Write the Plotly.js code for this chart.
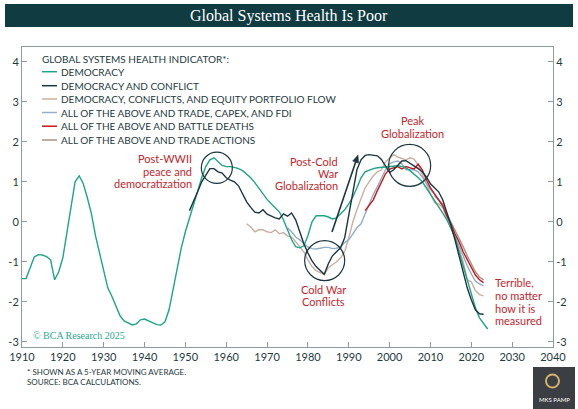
<!DOCTYPE html>
<html><head><meta charset="utf-8">
<script src="https://cdn.plot.ly/plotly-3.0.1.min.js"></script>
<style>html,body{margin:0;padding:0;background:#fff;} #chart{width:578px;height:409px;}</style>
</head><body><div id="chart"></div>
<script>
// ---- DATA ----
const seriesNames = [
  "DEMOCRACY",
  "DEMOCRACY AND CONFLICT",
  "DEMOCRACY, CONFLICTS, AND EQUITY PORTFOLIO FLOW",
  "ALL OF THE ABOVE AND TRADE, CAPEX, AND FDI",
  "ALL OF THE ABOVE AND BATTLE DEATHS",
  "ALL OF THE ABOVE AND TRADE ACTIONS"
];
const seriesColors = ["#1ea585", "#1b3640", "#c9b0a2", "#93aec6", "#c8161d", "#a89486"];

const democracyStart = 1910;
const democracy = [
 -1.42,-1.42,-1.15,-0.88,-0.82,-0.83,-0.87,-0.95,-1.45,-1.25,
 -0.9,-0.25,0.45,1.0,1.15,0.95,0.6,0.2,-0.35,-0.78,
 -1.2,-1.65,-1.86,-2.1,-2.35,-2.48,-2.52,-2.58,-2.55,-2.45,
 -2.43,-2.48,-2.53,-2.57,-2.58,-2.5,-2.2,-1.65,-1.1,-0.65,
 -0.25,0.1,0.43,0.78,1.1,1.38,1.55,1.6,1.5,1.41,
 1.38,1.38,1.36,1.33,1.28,1.2,1.1,0.98,0.83,0.68,
 0.56,0.45,0.35,0.25,0.05,-0.2,-0.45,-0.62,-0.65,-0.6,
 -0.35,0.0,0.15,0.15,0.15,0.12,0.07,0.1,0.2,0.3,
 0.45,0.62,0.85,1.1,1.25,1.3,1.33,1.35,1.36,1.38,
 1.38,1.4,1.4,1.38,1.35,1.28,1.2,1.1,1.0,0.85,
 0.68,0.52,0.38,0.22,0.05,-0.15,-0.38,-0.75,-1.1,-1.45,
 -1.85,-2.15,-2.4,-2.55,-2.68
];

const conflictStart = 1951;
const democracyConflict = [
 0.28,0.5,0.75,1.0,1.18,1.33,1.33,1.25,1.22,
 1.1,1.04,1.0,0.9,0.7,0.5,0.36,0.24,0.22,0.3,
 0.19,0.14,0.1,0.07,0.2,0.14,0.22,0.05,-0.28,-0.55,
 -0.78,-0.98,-1.12,-1.22,-1.31,-1.05,-0.85,-0.75,-0.65,-0.4,
 0.2,0.8,1.3,1.55,1.66,1.68,1.66,1.65,1.56,1.38,
 1.23,1.3,1.42,1.52,1.53,1.47,1.4,1.33,1.25,1.12,
 0.95,0.85,0.75,0.55,0.25,-0.08,-0.45,-0.85,-1.25,-1.65,
 -1.95,-2.2,-2.3,-2.31
];

const equityStart = 1965;
const equityFlow = [
 -0.05,-0.13,-0.25,-0.2,-0.2,
 -0.25,-0.27,-0.2,-0.3,-0.27,-0.35,-0.38,-0.5,-0.62,-0.75,
 -0.95,-1.12,-1.22,-1.27,-1.32,-1.15,-1.08,-1.0,-0.9,-0.75,
 -0.4,0.0,0.3,0.6,0.85,1.0,1.15,1.25,1.3,1.5,
 1.6,1.68,1.62,1.58,1.55,1.6,1.57,1.42,1.2,0.95,
 0.7,0.48,0.45,0.35,0.1,-0.15,-0.4,-0.7,-1.0,-1.45,
 -1.5,-1.72,-1.82,-1.85
];

const tradeCapexStart = 1975;
const tradeCapexFdi = [
 -0.15,-0.25,-0.38,-0.45,-0.55,
 -0.63,-0.67,-0.68,-0.66,-0.64,-0.64,-0.67,-0.66,-0.62,-0.52,
 -0.45,-0.3,-0.15,-0.05,0.2,0.45,0.68,0.88,1.08,1.3,
 1.45,1.5,1.52,1.45,1.3,1.3,1.3,1.25,1.12,0.95,
 0.8,0.68,0.55,0.4,0.15,-0.1,-0.35,-0.6,-0.85,-1.1,
 -1.3,-1.48,-1.55,-1.6
];

const battleStart = 1994;
const battleDeaths = [
 0.28,0.42,0.55,0.78,1.0,1.2,
 1.32,1.36,1.38,1.32,1.38,1.35,1.32,1.44,1.3,1.05,
 0.85,0.7,0.56,0.4,0.15,-0.05,-0.3,-0.5,-0.75,-0.95,
 -1.15,-1.33,-1.45,-1.52
];

const tradeActionsStart = 2011;
const tradeActions = [0.65,0.55,0.45,0.2,0.0,-0.2,-0.4,-0.62,-0.85,-1.05,-1.25,-1.38,-1.45];

const xTickVals = [1910,1920,1930,1940,1950,1960,1970,1980,1990,2000,2010,2020,2030,2040];
const yTickVals = [-3,-2,-1,0,1,2,3,4];
const yTickText = ["-3","-2","-1","0","1","2","3","4"];

// ---- BUILD ----
function yrs(start, arr){ return arr.map((_, i) => start + i); }
const seriesData = [
  [democracyStart, democracy],
  [conflictStart, democracyConflict],
  [equityStart, equityFlow],
  [tradeCapexStart, tradeCapexFdi],
  [battleStart, battleDeaths],
  [tradeActionsStart, tradeActions]
];
const drawOrder = [2,5,3,4,0,1];
const traces = drawOrder.map(i => ({
  type: "scatter", mode: "lines", name: seriesNames[i],
  x: yrs(seriesData[i][0], seriesData[i][1]), y: seriesData[i][1],
  line: {color: seriesColors[i], width: 1.4}, hoverinfo: "skip", showlegend: false
}));
traces.push({type:"scatter", mode:"lines", x:[1910], y:[0], yaxis:"y2", showlegend:false, hoverinfo:"skip", line:{color:"rgba(0,0,0,0)"}});

const L = 22, R = 553, T = 47, B = 347;
function px(x){ return (x - L) / (R - L); }
function py(y){ return (B - y) / (B - T); }

const ink = "#1e3a40";
const red = "#c1272d";
const frame = "#8d9c9e";
const navy = "#1b3640";
const font = "Lato, 'Open Sans', sans-serif";

const annotations = [];
const shapes = [];
function txt(text, x, y, o){
  annotations.push(Object.assign({text: text, x: px(x), y: py(y), xref: "paper", yref: "paper",
    showarrow: false, xanchor: "left", yanchor: "middle",
    font: {family: font, size: 11, color: red}}, o || {}));
}

// title bar
shapes.push({type:"rect", xref:"paper", yref:"paper", x0:px(5), x1:px(573), y0:py(27), y1:py(4), fillcolor:"#0f3b41", line:{width:0}, layer:"below"});
txt("Global Systems Health Is Poor", 289, 16, {xanchor:"center", font:{family:"'Liberation Serif', 'DejaVu Serif', serif", size:16, color:"#ffffff"}});

// legend (manual)
txt("GLOBAL SYSTEMS HEALTH INDICATOR*:", 40, 58.5, {font:{family:font, size:10, color:ink}});
const rowY = [71.7, 85.7, 99, 112.5, 126.2, 140];
seriesNames.forEach((n, i) => {
  shapes.push({type:"line", xref:"paper", yref:"paper", x0:px(42), x1:px(57), y0:py(rowY[i]), y1:py(rowY[i]), line:{color:seriesColors[i], width:1.5}});
  txt(n, 59, rowY[i], {font:{family:font, size:10, color:ink}});
});

// red commentary
txt("Post-WWII", 194, 158.3, {xanchor:"right"});
txt("peace and", 194, 171, {xanchor:"right"});
txt("democratization", 194, 183.5, {xanchor:"right"});
txt("Post-Cold", 340, 161, {xanchor:"right"});
txt("War", 340, 173, {xanchor:"right"});
txt("Globalization", 340, 185.5, {xanchor:"right"});
txt("Peak", 412.5, 120.7, {xanchor:"center"});
txt("Globalization", 412.5, 133.3, {xanchor:"center"});
txt("Cold War", 323.5, 289.3, {xanchor:"center"});
txt("Conflicts", 323.5, 301.7, {xanchor:"center"});
txt("Terrible,", 492.5, 282.7);
txt("no matter", 492.5, 295.3);
txt("how it is", 492.5, 308);
txt("measured", 492.5, 320.7);

// copyright
txt("© BCA Research 2025", 31, 335, {font:{family:"'Liberation Serif', serif", size:10, color:"#2aa98b"}});

// footnotes
txt("* SHOWN AS A 5-YEAR MOVING AVERAGE.", 25, 372, {font:{family:font, size:8, color:ink}});
txt("SOURCE: BCA CALCULATIONS.", 25, 382, {font:{family:font, size:8, color:ink}});

// logo
shapes.push({type:"rect", xref:"paper", yref:"paper", x0:px(533), x1:px(575), y0:py(409), y1:py(367), fillcolor:"#3b3e43", line:{width:0}});
shapes.push({type:"circle", xref:"paper", yref:"paper", x0:px(546), x1:px(559), y0:py(387.5), y1:py(374.5), line:{color:"#d4b06a", width:2}});
txt("MKS PAMP", 554, 399, {xanchor:"center", font:{family:font, size:6, color:"#ffffff"}});

// circles (data coords)
function circ(cx, cy, rx, ry){
  shapes.push({type:"circle", xref:"x", yref:"y", x0:cx-rx, x1:cx+rx, y0:cy-ry, y1:cy+ry, line:{color:navy, width:1.2}});
}
circ(1957.7, 1.35, 3.8, 0.39);
circ(1984.1, -0.97, 4.9, 0.5);
circ(2004.9, 1.41, 5.15, 0.525);

// arrow (line + head)
const aFrom = [332, 232], aTo = [358, 155];
(function(){
  const dx = aTo[0]-aFrom[0], dy = aTo[1]-aFrom[1];
  const len = Math.hypot(dx, dy), ux = dx/len, uy = dy/len;
  const hl = 7.5, hw = 3.2;
  const bx = aTo[0]-hl*ux, by = aTo[1]-hl*uy;
  shapes.push({type:"line", xref:"paper", yref:"paper", x0:px(aFrom[0]), y0:py(aFrom[1]), x1:px(bx+1*ux), y1:py(by+1*uy), line:{color:navy, width:1.6}});
  const p1 = [bx - hw*uy, by + hw*ux], p2 = [bx + hw*uy, by - hw*ux];
  shapes.push({type:"path", xref:"paper", yref:"paper",
    path: "M"+px(aTo[0])+","+py(aTo[1])+" L"+px(p1[0])+","+py(p1[1])+" L"+px(p2[0])+","+py(p2[1])+" Z",
    fillcolor:navy, line:{color:navy, width:0.5}});
})();

const axisCommon = {showgrid:false, zeroline:false, showline:true, linecolor:frame, linewidth:1,
  ticks:"inside", ticklen:5, tickcolor:frame, tickfont:{family:font, size:11, color:ink}};

const layout = {
  width: 578, height: 409,
  margin: {l: L, r: 578 - R, t: T, b: 409 - B},
  paper_bgcolor: "#ffffff", plot_bgcolor: "#ffffff",
  showlegend: false,
  xaxis: Object.assign({}, axisCommon, {range:[1910,2040], tickvals:xTickVals, mirror:true}),
  yaxis: Object.assign({}, axisCommon, {range:[-3.13,4.37], tickvals:yTickVals, ticktext:yTickText}),
  yaxis2: Object.assign({}, axisCommon, {range:[-3.13,4.37], tickvals:yTickVals, ticktext:yTickText, overlaying:"y", side:"right"}),
  shapes: shapes,
  annotations: annotations
};

Plotly.newPlot("chart", traces, layout, {staticPlot:true, displayModeBar:false});
</script>
</body></html>
